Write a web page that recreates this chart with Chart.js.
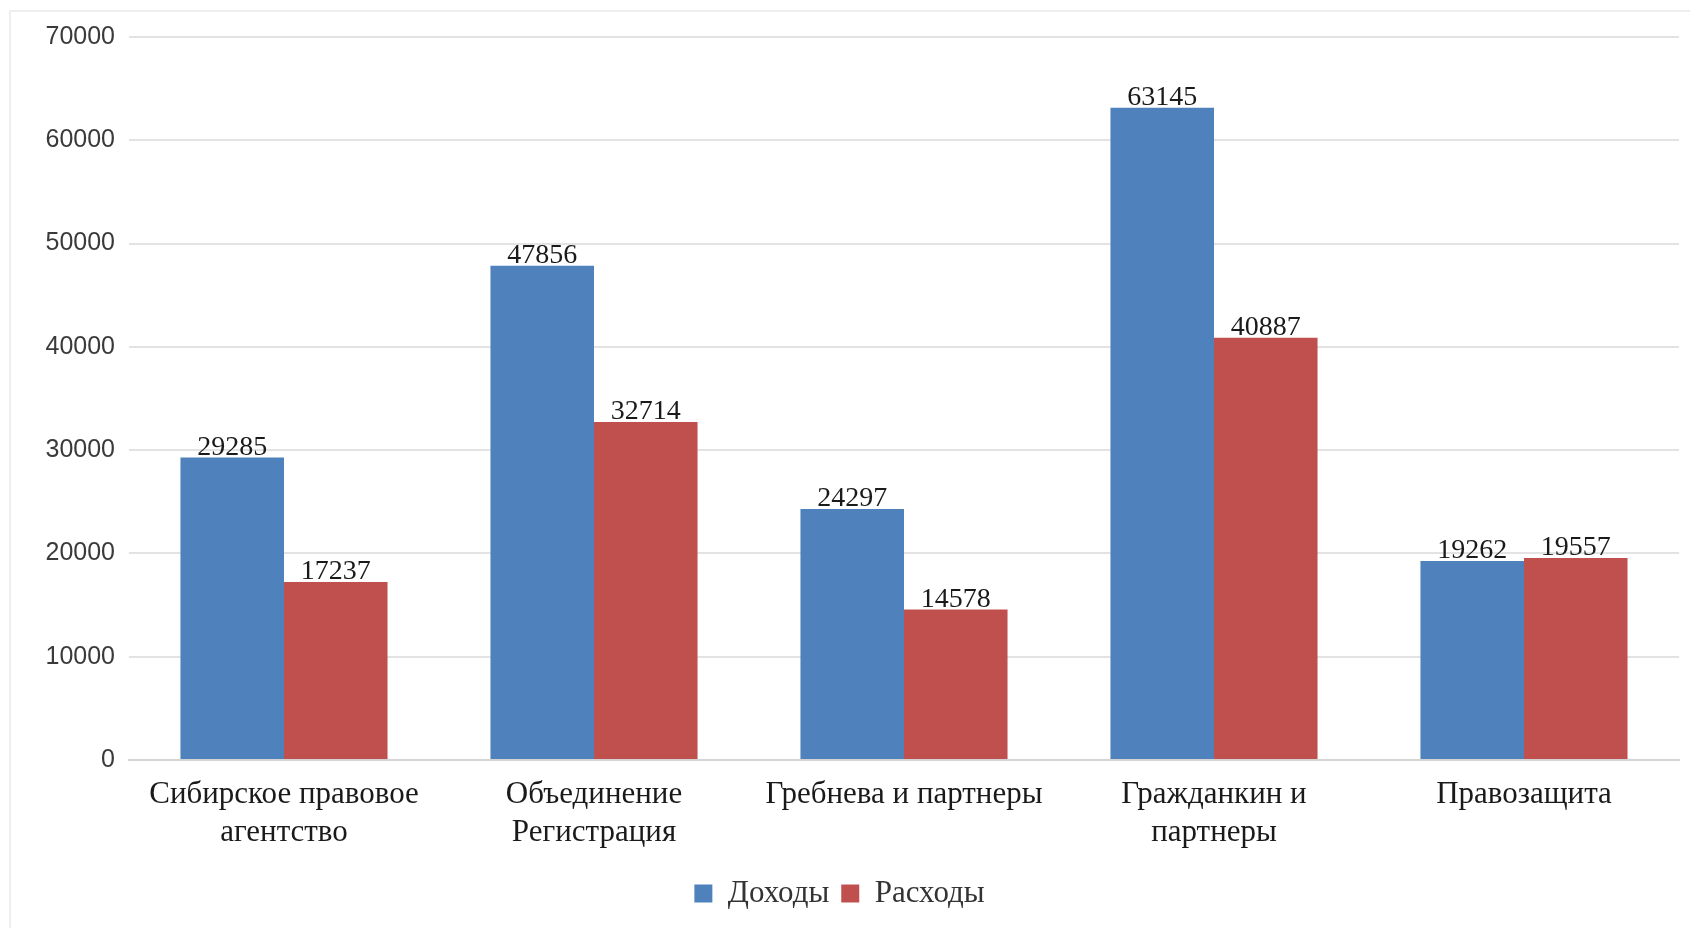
<!DOCTYPE html>
<html>
<head>
<meta charset="utf-8">
<script src="https://cdn.jsdelivr.net/npm/chart.js@4.4.0/dist/chart.umd.min.js"></script>
<style>
    html, body { margin: 0; padding: 0; background: #fff; }
    #wrap { position: relative; width: 1690px; height: 928px; }
    #frame { position: absolute; left: 9px; top: 10px; right: -4px; bottom: -4px; border: 2px solid #eeeeee; }
    canvas { position: absolute; left: 0; top: 0; }
</style>
</head>
<body>
<div id="wrap">
    <div id="frame"></div>
    <canvas id="chart" width="1690" height="928"></canvas>
</div>
<script>
// Company names (x axis)
const categories = [
    ['Сибирское правовое', 'агентство'],
    ['Объединение', 'Регистрация'],
    'Гребнева и партнеры',
    ['Гражданкин и', 'партнеры'],
    'Правозащита'
];
const income = [29285, 47856, 24297, 63145, 19262];
const expenses = [17237, 32714, 14578, 40887, 19557];
const yTicks = [0, 10000, 20000, 30000, 40000, 50000, 60000, 70000];

const serif = '"Liberation Serif", "DejaVu Serif", serif';

// Draw values above every bar
const valueLabels = {
    id: 'valueLabels',
    afterDatasetsDraw(chart) {
        const ctx = chart.ctx;
        ctx.save();
        ctx.font = '28px ' + serif;
        ctx.fillStyle = '#1a1a1a';
        ctx.textAlign = 'center';
        ctx.textBaseline = 'bottom';
        chart.data.datasets.forEach((ds, i) => {
            chart.getDatasetMeta(i).data.forEach((bar, j) => {
                ctx.fillText(ds.data[j], bar.x, bar.y + 4);
            });
        });
        ctx.restore();
    }
};

new Chart(document.getElementById('chart').getContext('2d'), {
    type: 'bar',
    data: {
        labels: categories,
        datasets: [{
            label: 'Доходы',
            data: income,
            backgroundColor: '#4F81BD',
            borderWidth: 0
        }, {
            label: 'Расходы',
            data: expenses,
            backgroundColor: '#C0504D',
            borderWidth: 0
        }]
    },
    options: {
        responsive: false,
        animation: false,
        devicePixelRatio: 1,
        layout: {
            padding: { top: 37, right: 11, bottom: 9, left: 0 }
        },
        datasets: {
            bar: { categoryPercentage: 0.668, barPercentage: 1.0 }
        },
        scales: {
            x: {
                grid: { display: false, drawTicks: false },
                border: { display: true, color: '#d4d4d4', width: 2 },
                ticks: {
                    color: '#1a1a1a',
                    padding: 16,
                    maxRotation: 0,
                    autoSkip: false,
                    font: { family: serif, size: 31, lineHeight: 1.22 }
                },
                afterFit(scale) { scale.height = 106; }
            },
            y: {
                min: 0,
                max: 70000,
                afterBuildTicks(scale) {
                    scale.ticks = yTicks.map(v => ({ value: v }));
                },
                grid: { color: '#e3e3e3', lineWidth: 2, drawTicks: false },
                border: { display: false },
                ticks: {
                    color: '#3a3a3a',
                    padding: 14,
                    callback: v => String(v),
                    font: { family: '"Liberation Sans", Arial, sans-serif', size: 25 }
                },
                afterFit(scale) { scale.width = 129; }
            }
        },
        plugins: {
            legend: {
                position: 'bottom',
                labels: {
                    boxWidth: 18,
                    boxHeight: 18,
                    padding: 12,
                    color: '#333',
                    font: { family: serif, size: 31 }
                }
            },
            tooltip: { enabled: false }
        }
    },
    plugins: [valueLabels]
});
</script>
</body>
</html>
